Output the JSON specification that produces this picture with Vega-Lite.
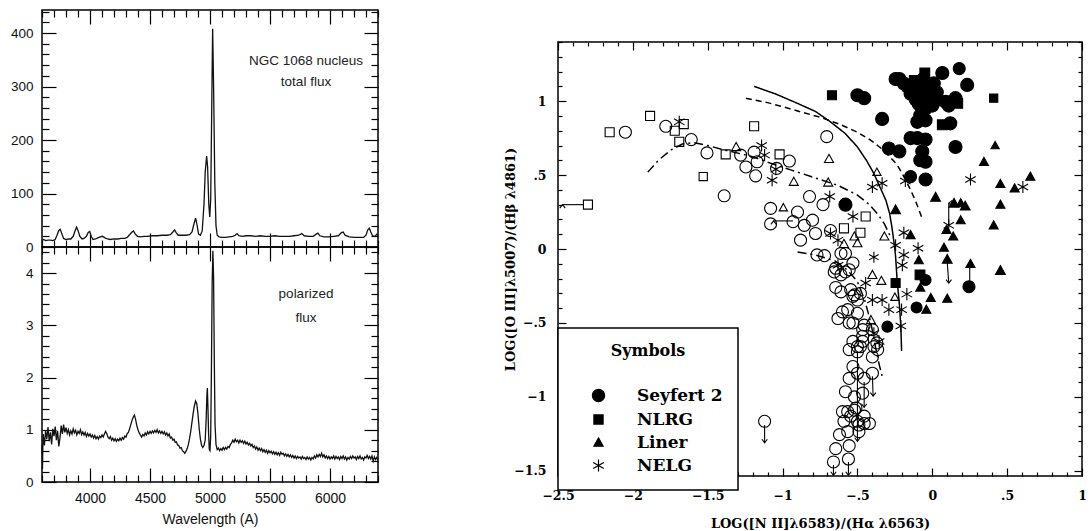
{
  "$schema": "https://vega.github.io/schema/vega-lite/v6.json",
  "background": "white",
  "padding": {"left": 9, "top": 3, "right": 5, "bottom": 5},
  "config": {
    "font": "Liberation Sans",
    "view": {"stroke": "black", "strokeWidth": 1.5},
    "axis": {"domain": false, "grid": false, "tickColor": "black", "tickWidth": 1.2, "labelColor": "#111", "titleColor": "#111", "labelOverlap": false, "labelFlush": false},
    "legend": {"strokeWidth": 1.5}
  },
  "datasets": {
    "total": [
      {"wl":3600,"flux":12},{"wl":3615,"flux":14},{"wl":3630,"flux":12},{"wl":3650,"flux":13},{"wl":3670,"flux":13},{"wl":3690,"flux":12},{"wl":3710,"flux":14},{"wl":3725,"flux":22},{"wl":3740,"flux":31},{"wl":3752,"flux":33},{"wl":3765,"flux":25},{"wl":3780,"flux":16},{"wl":3800,"flux":14},{"wl":3820,"flux":15},{"wl":3840,"flux":15},{"wl":3860,"flux":20},{"wl":3875,"flux":30},{"wl":3888,"flux":37},{"wl":3900,"flux":31},{"wl":3915,"flux":20},{"wl":3935,"flux":15},{"wl":3950,"flux":16},{"wl":3970,"flux":20},{"wl":3985,"flux":27},{"wl":3998,"flux":29},{"wl":4010,"flux":20},{"wl":4025,"flux":14},{"wl":4045,"flux":15},{"wl":4065,"flux":17},{"wl":4085,"flux":19},{"wl":4105,"flux":20},{"wl":4125,"flux":17},{"wl":4145,"flux":15},{"wl":4170,"flux":14},{"wl":4200,"flux":15},{"wl":4230,"flux":15},{"wl":4260,"flux":16},{"wl":4290,"flux":16},{"wl":4310,"flux":18},{"wl":4330,"flux":23},{"wl":4350,"flux":28},{"wl":4362,"flux":30},{"wl":4378,"flux":24},{"wl":4395,"flux":20},{"wl":4420,"flux":19},{"wl":4450,"flux":20},{"wl":4480,"flux":20},{"wl":4520,"flux":21},{"wl":4560,"flux":21},{"wl":4600,"flux":22},{"wl":4640,"flux":22},{"wl":4670,"flux":23},{"wl":4690,"flux":28},{"wl":4705,"flux":32},{"wl":4718,"flux":27},{"wl":4735,"flux":22},{"wl":4770,"flux":22},{"wl":4800,"flux":22},{"wl":4830,"flux":23},{"wl":4850,"flux":28},{"wl":4865,"flux":42},{"wl":4880,"flux":54},{"wl":4893,"flux":40},{"wl":4905,"flux":24},{"wl":4920,"flux":22},{"wl":4935,"flux":30},{"wl":4950,"flux":80},{"wl":4960,"flux":140},{"wl":4972,"flux":170},{"wl":4980,"flux":150},{"wl":4990,"flux":80},{"wl":4998,"flux":56},{"wl":5006,"flux":90},{"wl":5014,"flux":250},{"wl":5022,"flux":408},{"wl":5030,"flux":300},{"wl":5040,"flux":120},{"wl":5050,"flux":40},{"wl":5060,"flux":22},{"wl":5075,"flux":19},{"wl":5100,"flux":18},{"wl":5130,"flux":18},{"wl":5160,"flux":19},{"wl":5190,"flux":20},{"wl":5210,"flux":22},{"wl":5225,"flux":25},{"wl":5240,"flux":21},{"wl":5270,"flux":20},{"wl":5300,"flux":21},{"wl":5340,"flux":21},{"wl":5380,"flux":20},{"wl":5420,"flux":21},{"wl":5460,"flux":20},{"wl":5500,"flux":20},{"wl":5540,"flux":21},{"wl":5580,"flux":20},{"wl":5620,"flux":20},{"wl":5660,"flux":20},{"wl":5700,"flux":21},{"wl":5740,"flux":22},{"wl":5765,"flux":25},{"wl":5785,"flux":21},{"wl":5820,"flux":20},{"wl":5860,"flux":20},{"wl":5885,"flux":24},{"wl":5900,"flux":26},{"wl":5915,"flux":21},{"wl":5950,"flux":19},{"wl":5990,"flux":19},{"wl":6030,"flux":20},{"wl":6070,"flux":21},{"wl":6095,"flux":27},{"wl":6110,"flux":28},{"wl":6125,"flux":22},{"wl":6160,"flux":19},{"wl":6200,"flux":18},{"wl":6240,"flux":18},{"wl":6280,"flux":18},{"wl":6300,"flux":22},{"wl":6315,"flux":32},{"wl":6328,"flux":35},{"wl":6340,"flux":28},{"wl":6355,"flux":21},{"wl":6375,"flux":20},{"wl":6390,"flux":24},{"wl":6400,"flux":22}
    ],
    "polarized": [
      {"wl":3600,"flux":0.72},{"wl":3604,"flux":0.25},{"wl":3608,"flux":0.8},{"wl":3610,"flux":0.92},{"wl":3620,"flux":0.7},{"wl":3630,"flux":0.98},{"wl":3640,"flux":0.82},{"wl":3650,"flux":1.05},{"wl":3660,"flux":0.78},{"wl":3670,"flux":0.95},{"wl":3680,"flux":0.72},{"wl":3690,"flux":1.02},{"wl":3700,"flux":0.88},{"wl":3710,"flux":1.06},{"wl":3720,"flux":0.8},{"wl":3730,"flux":0.98},{"wl":3740,"flux":0.68},{"wl":3750,"flux":0.85},{"wl":3760,"flux":1.08},{"wl":3770,"flux":0.92},{"wl":3780,"flux":1.1},{"wl":3790,"flux":0.95},{"wl":3800,"flux":1.04},{"wl":3810,"flux":0.93},{"wl":3820,"flux":1.0},{"wl":3830,"flux":0.9},{"wl":3840,"flux":0.98},{"wl":3850,"flux":0.92},{"wl":3860,"flux":1.02},{"wl":3870,"flux":0.94},{"wl":3880,"flux":0.99},{"wl":3890,"flux":0.9},{"wl":3900,"flux":0.97},{"wl":3910,"flux":0.93},{"wl":3920,"flux":1.0},{"wl":3930,"flux":0.91},{"wl":3940,"flux":0.96},{"wl":3950,"flux":0.9},{"wl":3960,"flux":0.95},{"wl":3970,"flux":0.87},{"wl":3980,"flux":0.93},{"wl":3990,"flux":0.88},{"wl":4000,"flux":0.92},{"wl":4010,"flux":0.86},{"wl":4020,"flux":0.9},{"wl":4030,"flux":0.84},{"wl":4040,"flux":0.89},{"wl":4050,"flux":0.83},{"wl":4060,"flux":0.87},{"wl":4070,"flux":0.82},{"wl":4080,"flux":0.88},{"wl":4090,"flux":0.85},{"wl":4100,"flux":0.9},{"wl":4110,"flux":0.86},{"wl":4120,"flux":0.92},{"wl":4130,"flux":0.97},{"wl":4140,"flux":0.93},{"wl":4150,"flux":0.86},{"wl":4160,"flux":0.83},{"wl":4170,"flux":0.87},{"wl":4180,"flux":0.8},{"wl":4190,"flux":0.84},{"wl":4200,"flux":0.79},{"wl":4210,"flux":0.83},{"wl":4220,"flux":0.78},{"wl":4230,"flux":0.82},{"wl":4240,"flux":0.79},{"wl":4250,"flux":0.84},{"wl":4260,"flux":0.8},{"wl":4270,"flux":0.85},{"wl":4280,"flux":0.82},{"wl":4290,"flux":0.88},{"wl":4300,"flux":0.86},{"wl":4310,"flux":0.93},{"wl":4320,"flux":0.95},{"wl":4330,"flux":1.02},{"wl":4340,"flux":1.1},{"wl":4350,"flux":1.18},{"wl":4360,"flux":1.24},{"wl":4370,"flux":1.28},{"wl":4380,"flux":1.2},{"wl":4390,"flux":1.08},{"wl":4400,"flux":1.0},{"wl":4410,"flux":0.94},{"wl":4420,"flux":0.9},{"wl":4430,"flux":0.86},{"wl":4440,"flux":0.91},{"wl":4450,"flux":0.88},{"wl":4460,"flux":0.94},{"wl":4470,"flux":0.9},{"wl":4480,"flux":0.96},{"wl":4490,"flux":0.92},{"wl":4500,"flux":0.97},{"wl":4510,"flux":0.93},{"wl":4520,"flux":0.98},{"wl":4530,"flux":0.94},{"wl":4540,"flux":0.99},{"wl":4550,"flux":0.95},{"wl":4560,"flux":1.0},{"wl":4570,"flux":0.94},{"wl":4580,"flux":0.98},{"wl":4590,"flux":0.93},{"wl":4600,"flux":0.97},{"wl":4610,"flux":0.92},{"wl":4620,"flux":0.96},{"wl":4630,"flux":0.9},{"wl":4640,"flux":0.94},{"wl":4650,"flux":0.88},{"wl":4660,"flux":0.92},{"wl":4670,"flux":0.84},{"wl":4680,"flux":0.86},{"wl":4690,"flux":0.8},{"wl":4700,"flux":0.82},{"wl":4710,"flux":0.76},{"wl":4720,"flux":0.77},{"wl":4730,"flux":0.71},{"wl":4740,"flux":0.7},{"wl":4750,"flux":0.65},{"wl":4760,"flux":0.66},{"wl":4770,"flux":0.6},{"wl":4780,"flux":0.58},{"wl":4790,"flux":0.55},{"wl":4800,"flux":0.59},{"wl":4810,"flux":0.64},{"wl":4820,"flux":0.72},{"wl":4830,"flux":0.84},{"wl":4840,"flux":0.98},{"wl":4850,"flux":1.15},{"wl":4860,"flux":1.32},{"wl":4870,"flux":1.46},{"wl":4880,"flux":1.55},{"wl":4890,"flux":1.5},{"wl":4900,"flux":1.3},{"wl":4910,"flux":1.02},{"wl":4920,"flux":0.82},{"wl":4930,"flux":0.7},{"wl":4940,"flux":0.66},{"wl":4950,"flux":0.7},{"wl":4960,"flux":0.8},{"wl":4968,"flux":1.2},{"wl":4974,"flux":1.65},{"wl":4978,"flux":1.8},{"wl":4982,"flux":1.5},{"wl":4988,"flux":0.95},{"wl":4994,"flux":0.62},{"wl":5000,"flux":0.6},{"wl":5006,"flux":0.9},{"wl":5012,"flux":2.2},{"wl":5018,"flux":3.8},{"wl":5024,"flux":4.43},{"wl":5030,"flux":3.9},{"wl":5036,"flux":2.3},{"wl":5042,"flux":1.1},{"wl":5050,"flux":0.72},{"wl":5060,"flux":0.62},{"wl":5070,"flux":0.65},{"wl":5080,"flux":0.6},{"wl":5090,"flux":0.64},{"wl":5100,"flux":0.61},{"wl":5110,"flux":0.66},{"wl":5120,"flux":0.62},{"wl":5130,"flux":0.66},{"wl":5140,"flux":0.63},{"wl":5150,"flux":0.68},{"wl":5160,"flux":0.66},{"wl":5170,"flux":0.72},{"wl":5180,"flux":0.75},{"wl":5190,"flux":0.8},{"wl":5200,"flux":0.76},{"wl":5210,"flux":0.82},{"wl":5220,"flux":0.77},{"wl":5230,"flux":0.8},{"wl":5240,"flux":0.75},{"wl":5250,"flux":0.8},{"wl":5260,"flux":0.76},{"wl":5270,"flux":0.79},{"wl":5280,"flux":0.74},{"wl":5290,"flux":0.78},{"wl":5300,"flux":0.73},{"wl":5310,"flux":0.76},{"wl":5320,"flux":0.71},{"wl":5330,"flux":0.74},{"wl":5340,"flux":0.69},{"wl":5350,"flux":0.72},{"wl":5360,"flux":0.66},{"wl":5370,"flux":0.69},{"wl":5380,"flux":0.63},{"wl":5390,"flux":0.67},{"wl":5400,"flux":0.61},{"wl":5410,"flux":0.65},{"wl":5420,"flux":0.6},{"wl":5430,"flux":0.64},{"wl":5440,"flux":0.58},{"wl":5450,"flux":0.62},{"wl":5460,"flux":0.57},{"wl":5470,"flux":0.61},{"wl":5480,"flux":0.55},{"wl":5490,"flux":0.6},{"wl":5500,"flux":0.56},{"wl":5510,"flux":0.59},{"wl":5520,"flux":0.54},{"wl":5530,"flux":0.58},{"wl":5540,"flux":0.53},{"wl":5550,"flux":0.57},{"wl":5560,"flux":0.52},{"wl":5570,"flux":0.56},{"wl":5580,"flux":0.51},{"wl":5590,"flux":0.57},{"wl":5600,"flux":0.53},{"wl":5610,"flux":0.55},{"wl":5620,"flux":0.5},{"wl":5630,"flux":0.54},{"wl":5640,"flux":0.49},{"wl":5650,"flux":0.53},{"wl":5660,"flux":0.48},{"wl":5670,"flux":0.52},{"wl":5680,"flux":0.47},{"wl":5690,"flux":0.51},{"wl":5700,"flux":0.46},{"wl":5710,"flux":0.5},{"wl":5720,"flux":0.45},{"wl":5730,"flux":0.49},{"wl":5740,"flux":0.46},{"wl":5750,"flux":0.48},{"wl":5760,"flux":0.44},{"wl":5770,"flux":0.49},{"wl":5780,"flux":0.45},{"wl":5790,"flux":0.47},{"wl":5800,"flux":0.43},{"wl":5810,"flux":0.48},{"wl":5820,"flux":0.44},{"wl":5830,"flux":0.47},{"wl":5840,"flux":0.42},{"wl":5850,"flux":0.47},{"wl":5860,"flux":0.44},{"wl":5870,"flux":0.5},{"wl":5880,"flux":0.46},{"wl":5890,"flux":0.52},{"wl":5900,"flux":0.48},{"wl":5910,"flux":0.53},{"wl":5920,"flux":0.49},{"wl":5930,"flux":0.55},{"wl":5940,"flux":0.48},{"wl":5950,"flux":0.52},{"wl":5960,"flux":0.46},{"wl":5970,"flux":0.5},{"wl":5980,"flux":0.45},{"wl":5990,"flux":0.49},{"wl":6000,"flux":0.44},{"wl":6010,"flux":0.48},{"wl":6020,"flux":0.45},{"wl":6030,"flux":0.5},{"wl":6040,"flux":0.44},{"wl":6050,"flux":0.49},{"wl":6060,"flux":0.45},{"wl":6070,"flux":0.48},{"wl":6080,"flux":0.43},{"wl":6090,"flux":0.49},{"wl":6100,"flux":0.45},{"wl":6110,"flux":0.5},{"wl":6120,"flux":0.44},{"wl":6130,"flux":0.48},{"wl":6140,"flux":0.42},{"wl":6150,"flux":0.47},{"wl":6160,"flux":0.44},{"wl":6170,"flux":0.49},{"wl":6180,"flux":0.45},{"wl":6190,"flux":0.5},{"wl":6200,"flux":0.46},{"wl":6210,"flux":0.48},{"wl":6220,"flux":0.43},{"wl":6230,"flux":0.49},{"wl":6240,"flux":0.45},{"wl":6250,"flux":0.5},{"wl":6260,"flux":0.44},{"wl":6270,"flux":0.47},{"wl":6280,"flux":0.42},{"wl":6290,"flux":0.48},{"wl":6300,"flux":0.46},{"wl":6310,"flux":0.51},{"wl":6320,"flux":0.45},{"wl":6330,"flux":0.49},{"wl":6340,"flux":0.44},{"wl":6350,"flux":0.5},{"wl":6360,"flux":0.4},{"wl":6370,"flux":0.48},{"wl":6380,"flux":0.43},{"wl":6390,"flux":0.47},{"wl":6400,"flux":0.42}
    ],
    "galaxies": [
      {"x":-0.5,"y":1.04,"class":"Seyfert 2","quality":"high"},{"x":-0.455,"y":1.02,"class":"Seyfert 2","quality":"high"},{"x":-0.335,"y":0.88,"class":"Seyfert 2","quality":"high"},{"x":-0.29,"y":0.68,"class":"Seyfert 2","quality":"high"},{"x":-0.22,"y":0.66,"class":"Seyfert 2","quality":"high"},{"x":-0.245,"y":1.15,"class":"Seyfert 2","quality":"high"},{"x":-0.22,"y":1.15,"class":"Seyfert 2","quality":"high"},{"x":-0.19,"y":1.12,"class":"Seyfert 2","quality":"high"},{"x":-0.167,"y":1.1,"class":"Seyfert 2","quality":"high"},{"x":-0.145,"y":1.05,"class":"Seyfert 2","quality":"high"},{"x":-0.12,"y":1.075,"class":"Seyfert 2","quality":"high"},{"x":-0.08,"y":1.12,"class":"Seyfert 2","quality":"high"},{"x":-0.06,"y":1.15,"class":"Seyfert 2","quality":"high"},{"x":-0.033,"y":1.085,"class":"Seyfert 2","quality":"high"},{"x":-0.01,"y":1.065,"class":"Seyfert 2","quality":"high"},{"x":0.01,"y":1.12,"class":"Seyfert 2","quality":"high"},{"x":0.067,"y":1.19,"class":"Seyfert 2","quality":"high"},{"x":0.233,"y":1.11,"class":"Seyfert 2","quality":"high"},{"x":-0.11,"y":1.01,"class":"Seyfert 2","quality":"high"},{"x":-0.055,"y":1.03,"class":"Seyfert 2","quality":"high"},{"x":0.03,"y":1.06,"class":"Seyfert 2","quality":"high"},{"x":0.033,"y":1.01,"class":"Seyfert 2","quality":"high"},{"x":0.09,"y":0.995,"class":"Seyfert 2","quality":"high"},{"x":0.155,"y":1.02,"class":"Seyfert 2","quality":"high"},{"x":0.11,"y":0.97,"class":"Seyfert 2","quality":"high"},{"x":-0.09,"y":0.98,"class":"Seyfert 2","quality":"high"},{"x":0.0,"y":0.97,"class":"Seyfert 2","quality":"high"},{"x":-0.045,"y":0.95,"class":"Seyfert 2","quality":"high"},{"x":-0.08,"y":0.905,"class":"Seyfert 2","quality":"high"},{"x":-0.1,"y":0.86,"class":"Seyfert 2","quality":"high"},{"x":-0.045,"y":0.87,"class":"Seyfert 2","quality":"high"},{"x":0.12,"y":0.85,"class":"Seyfert 2","quality":"high"},{"x":-0.145,"y":0.75,"class":"Seyfert 2","quality":"high"},{"x":-0.1,"y":0.75,"class":"Seyfert 2","quality":"high"},{"x":-0.045,"y":0.74,"class":"Seyfert 2","quality":"high"},{"x":0.155,"y":0.69,"class":"Seyfert 2","quality":"high"},{"x":-0.067,"y":0.66,"class":"Seyfert 2","quality":"high"},{"x":-0.08,"y":0.6,"class":"Seyfert 2","quality":"high"},{"x":-0.045,"y":0.59,"class":"Seyfert 2","quality":"high"},{"x":-0.045,"y":0.47,"class":"Seyfert 2","quality":"high"},{"x":-0.58,"y":0.3,"class":"Seyfert 2","quality":"high"},
      {"x":0.18,"y":1.22,"class":"Seyfert 2","quality":"medium"},{"x":-0.145,"y":0.49,"class":"Seyfert 2","quality":"medium"},{"x":0.245,"y":-0.255,"class":"Seyfert 2","quality":"medium"},{"x":-0.045,"y":-0.21,"class":"Seyfert 2","quality":"low"},{"x":-0.105,"y":-0.395,"class":"Seyfert 2","quality":"low"},{"x":-0.3,"y":-0.525,"class":"Seyfert 2","quality":"low"},
      {"x":-0.05,"y":1.19,"class":"NLRG","quality":"high"},{"x":-0.12,"y":1.14,"class":"NLRG","quality":"high"},{"x":0.17,"y":0.985,"class":"NLRG","quality":"high"},{"x":0.067,"y":0.84,"class":"NLRG","quality":"high"},{"x":-0.082,"y":-0.175,"class":"NLRG","quality":"high"},{"x":-0.67,"y":1.04,"class":"NLRG","quality":"medium"},{"x":-0.245,"y":-0.23,"class":"NLRG","quality":"medium"},{"x":0.41,"y":1.02,"class":"NLRG","quality":"low"},
      {"x":0.022,"y":0.35,"class":"Liner","quality":"high"},{"x":0.145,"y":0.31,"class":"Liner","quality":"high"},{"x":0.22,"y":0.29,"class":"Liner","quality":"high"},{"x":-0.245,"y":0.265,"class":"Liner","quality":"high"},{"x":0.1,"y":-0.07,"class":"Liner","quality":"high"},{"x":0.455,"y":-0.145,"class":"Liner","quality":"high"},
      {"x":0.345,"y":0.59,"class":"Liner","quality":"medium"},{"x":0.655,"y":0.49,"class":"Liner","quality":"medium"},{"x":0.455,"y":0.44,"class":"Liner","quality":"medium"},{"x":0.55,"y":0.41,"class":"Liner","quality":"medium"},{"x":0.455,"y":0.3,"class":"Liner","quality":"medium"},{"x":0.41,"y":0.16,"class":"Liner","quality":"medium"},{"x":0.19,"y":0.31,"class":"Liner","quality":"medium"},{"x":0.19,"y":0.195,"class":"Liner","quality":"medium"},{"x":0.095,"y":0.13,"class":"Liner","quality":"medium"},{"x":0.14,"y":0.085,"class":"Liner","quality":"medium"},{"x":-0.145,"y":0.095,"class":"Liner","quality":"medium"},{"x":0.078,"y":0.01,"class":"Liner","quality":"medium"},{"x":-0.09,"y":-0.075,"class":"Liner","quality":"medium"},{"x":0.255,"y":-0.1,"class":"Liner","quality":"medium"},{"x":-0.08,"y":-0.26,"class":"Liner","quality":"medium"},{"x":-0.01,"y":-0.33,"class":"Liner","quality":"medium"},{"x":0.1,"y":-0.335,"class":"Liner","quality":"medium"},{"x":-0.04,"y":-0.41,"class":"Liner","quality":"medium"},{"x":0.42,"y":0.7,"class":"Liner","quality":"low"},
      {"x":-1.69,"y":0.86,"class":"NELG","quality":"medium"},{"x":-1.14,"y":0.7,"class":"NELG","quality":"medium"},{"x":-1.12,"y":0.635,"class":"NELG","quality":"medium"},{"x":-1.07,"y":0.465,"class":"NELG","quality":"medium"},{"x":-1.045,"y":0.54,"class":"NELG","quality":"medium"},{"x":-0.685,"y":0.355,"class":"NELG","quality":"medium"},{"x":-0.53,"y":0.22,"class":"NELG","quality":"medium"},{"x":-0.4,"y":0.42,"class":"NELG","quality":"medium"},{"x":-0.335,"y":0.445,"class":"NELG","quality":"medium"},{"x":-0.68,"y":0.105,"class":"NELG","quality":"medium"},{"x":-0.63,"y":0.06,"class":"NELG","quality":"medium"},{"x":0.255,"y":0.47,"class":"NELG","quality":"medium"},{"x":0.605,"y":0.42,"class":"NELG","quality":"medium"},{"x":-0.18,"y":0.46,"class":"NELG","quality":"medium"},{"x":-0.19,"y":0.11,"class":"NELG","quality":"medium"},{"x":0.11,"y":0.16,"class":"NELG","quality":"medium"},{"x":-0.095,"y":0.005,"class":"NELG","quality":"medium"},{"x":-0.245,"y":0.025,"class":"NELG","quality":"medium"},{"x":-0.19,"y":-0.04,"class":"NELG","quality":"medium"},{"x":-0.2,"y":-0.11,"class":"NELG","quality":"medium"},{"x":-0.17,"y":-0.305,"class":"NELG","quality":"medium"},{"x":-0.29,"y":-0.41,"class":"NELG","quality":"medium"},{"x":-0.205,"y":-0.41,"class":"NELG","quality":"medium"},{"x":-0.21,"y":-0.52,"class":"NELG","quality":"medium"},{"x":-0.63,"y":-0.11,"class":"NELG","quality":"medium"},{"x":-0.445,"y":-0.23,"class":"NELG","quality":"medium"},{"x":-0.4,"y":-0.345,"class":"NELG","quality":"medium"},{"x":-0.335,"y":-0.345,"class":"NELG","quality":"medium"},{"x":-0.39,"y":-0.57,"class":"NELG","quality":"medium"},{"x":-0.355,"y":-0.625,"class":"NELG","quality":"medium"},{"x":-0.39,"y":-0.055,"class":"NELG","quality":"low"},
      {"x":-2.05,"y":0.79,"class":"H II region","quality":"medium"},{"x":-1.78,"y":0.83,"class":"H II region","quality":"medium"},{"x":-1.61,"y":0.74,"class":"H II region","quality":"medium"},{"x":-1.505,"y":0.65,"class":"H II region","quality":"medium"},{"x":-1.39,"y":0.36,"class":"H II region","quality":"medium"},{"x":-1.28,"y":0.635,"class":"H II region","quality":"medium"},{"x":-1.19,"y":0.655,"class":"H II region","quality":"medium"},{"x":-1.245,"y":0.555,"class":"H II region","quality":"medium"},{"x":-1.18,"y":0.495,"class":"H II region","quality":"medium"},{"x":-1.17,"y":0.59,"class":"H II region","quality":"medium"},{"x":-1.04,"y":0.545,"class":"H II region","quality":"medium"},{"x":-0.955,"y":0.595,"class":"H II region","quality":"medium"},{"x":-0.705,"y":0.76,"class":"H II region","quality":"medium"},{"x":-1.08,"y":0.275,"class":"H II region","quality":"medium"},{"x":-1.08,"y":0.17,"class":"H II region","quality":"medium"},{"x":-0.9,"y":0.25,"class":"H II region","quality":"medium"},{"x":-0.93,"y":0.185,"class":"H II region","quality":"medium"},{"x":-0.855,"y":0.16,"class":"H II region","quality":"medium"},{"x":-0.8,"y":0.195,"class":"H II region","quality":"medium"},{"x":-0.78,"y":0.105,"class":"H II region","quality":"medium"},{"x":-0.88,"y":0.06,"class":"H II region","quality":"medium"},{"x":-0.68,"y":0.125,"class":"H II region","quality":"medium"},{"x":-0.82,"y":0.355,"class":"H II region","quality":"medium"},{"x":-0.73,"y":0.3,"class":"H II region","quality":"medium"},{"x":-0.77,"y":-0.04,"class":"H II region","quality":"medium"},{"x":-0.72,"y":-0.045,"class":"H II region","quality":"medium"},{"x":-0.61,"y":-0.03,"class":"H II region","quality":"medium"},{"x":-0.58,"y":-0.03,"class":"H II region","quality":"medium"},{"x":-0.53,"y":-0.095,"class":"H II region","quality":"medium"},{"x":-0.645,"y":-0.13,"class":"H II region","quality":"medium"},{"x":-0.655,"y":-0.155,"class":"H II region","quality":"medium"},{"x":-0.61,"y":-0.175,"class":"H II region","quality":"medium"},{"x":-0.58,"y":-0.155,"class":"H II region","quality":"medium"},{"x":-0.555,"y":-0.14,"class":"H II region","quality":"medium"},{"x":-0.645,"y":-0.26,"class":"H II region","quality":"medium"},{"x":-0.61,"y":-0.29,"class":"H II region","quality":"medium"},{"x":-0.545,"y":-0.275,"class":"H II region","quality":"medium"},{"x":-0.52,"y":-0.31,"class":"H II region","quality":"medium"},{"x":-0.53,"y":-0.32,"class":"H II region","quality":"medium"},{"x":-0.5,"y":-0.345,"class":"H II region","quality":"medium"},{"x":-0.48,"y":-0.3,"class":"H II region","quality":"medium"},{"x":-0.565,"y":-0.41,"class":"H II region","quality":"medium"},{"x":-0.63,"y":-0.47,"class":"H II region","quality":"medium"},{"x":-0.6,"y":-0.425,"class":"H II region","quality":"medium"},{"x":-0.5,"y":-0.435,"class":"H II region","quality":"medium"},{"x":-0.555,"y":-0.5,"class":"H II region","quality":"medium"},{"x":-0.53,"y":-0.5,"class":"H II region","quality":"medium"},{"x":-0.455,"y":-0.515,"class":"H II region","quality":"medium"},{"x":-0.465,"y":-0.545,"class":"H II region","quality":"medium"},{"x":-0.4,"y":-0.545,"class":"H II region","quality":"medium"},{"x":-0.37,"y":-0.635,"class":"H II region","quality":"medium"},{"x":-0.53,"y":-0.625,"class":"H II region","quality":"medium"},{"x":-0.465,"y":-0.59,"class":"H II region","quality":"medium"},{"x":-0.465,"y":-0.625,"class":"H II region","quality":"medium"},{"x":-0.5,"y":-0.66,"class":"H II region","quality":"medium"},{"x":-0.555,"y":-0.68,"class":"H II region","quality":"medium"},{"x":-0.48,"y":-0.66,"class":"H II region","quality":"medium"},{"x":-0.39,"y":-0.66,"class":"H II region","quality":"medium"},{"x":-0.365,"y":-0.68,"class":"H II region","quality":"medium"},{"x":-0.4,"y":-0.73,"class":"H II region","quality":"medium"},{"x":-0.4,"y":-0.84,"class":"H II region","quality":"medium"},{"x":-0.5,"y":-0.695,"class":"H II region","quality":"medium"},{"x":-0.53,"y":-0.795,"class":"H II region","quality":"medium"},{"x":-0.555,"y":-0.875,"class":"H II region","quality":"medium"},{"x":-0.455,"y":-0.875,"class":"H II region","quality":"medium"},{"x":-0.5,"y":-0.84,"class":"H II region","quality":"medium"},{"x":-0.58,"y":-0.965,"class":"H II region","quality":"medium"},{"x":-0.52,"y":-1.0,"class":"H II region","quality":"medium"},{"x":-0.465,"y":-0.975,"class":"H II region","quality":"medium"},{"x":-0.6,"y":-1.1,"class":"H II region","quality":"medium"},{"x":-0.565,"y":-1.1,"class":"H II region","quality":"medium"},{"x":-0.52,"y":-1.09,"class":"H II region","quality":"medium"},{"x":-0.51,"y":-1.075,"class":"H II region","quality":"medium"},{"x":-0.59,"y":-1.165,"class":"H II region","quality":"medium"},{"x":-0.545,"y":-1.13,"class":"H II region","quality":"medium"},{"x":-0.5,"y":-1.165,"class":"H II region","quality":"medium"},{"x":-0.455,"y":-1.18,"class":"H II region","quality":"medium"},{"x":-0.42,"y":-1.18,"class":"H II region","quality":"medium"},{"x":-0.455,"y":-1.13,"class":"H II region","quality":"medium"},{"x":-0.49,"y":-1.19,"class":"H II region","quality":"medium"},{"x":-0.565,"y":-1.235,"class":"H II region","quality":"medium"},{"x":-0.49,"y":-1.235,"class":"H II region","quality":"medium"},{"x":-0.62,"y":-1.255,"class":"H II region","quality":"medium"},{"x":-0.645,"y":-1.35,"class":"H II region","quality":"medium"},{"x":-0.555,"y":-1.33,"class":"H II region","quality":"medium"},{"x":-0.66,"y":-1.44,"class":"H II region","quality":"medium"},{"x":-0.56,"y":-1.42,"class":"H II region","quality":"medium"},{"x":-1.12,"y":-1.165,"class":"H II region","quality":"medium"},
      {"x":-2.155,"y":0.79,"class":"H II galaxy","quality":"medium"},{"x":-1.885,"y":0.9,"class":"H II galaxy","quality":"medium"},{"x":-1.66,"y":0.845,"class":"H II galaxy","quality":"medium"},{"x":-1.72,"y":0.8,"class":"H II galaxy","quality":"medium"},{"x":-1.69,"y":0.725,"class":"H II galaxy","quality":"medium"},{"x":-1.38,"y":0.64,"class":"H II galaxy","quality":"medium"},{"x":-1.19,"y":0.83,"class":"H II galaxy","quality":"medium"},{"x":-1.02,"y":0.64,"class":"H II galaxy","quality":"medium"},{"x":-2.3,"y":0.3,"class":"H II galaxy","quality":"medium"},{"x":-0.59,"y":0.14,"class":"H II galaxy","quality":"medium"},{"x":-0.48,"y":0.11,"class":"H II galaxy","quality":"medium"},{"x":-0.445,"y":0.22,"class":"H II galaxy","quality":"medium"},{"x":-1.53,"y":0.49,"class":"H II galaxy","quality":"low"},
      {"x":-1.31,"y":0.69,"class":"Starburst","quality":"medium"},{"x":-0.925,"y":0.455,"class":"Starburst","quality":"medium"},{"x":-0.69,"y":0.61,"class":"Starburst","quality":"medium"},{"x":-0.695,"y":0.45,"class":"Starburst","quality":"medium"},{"x":-0.52,"y":0.085,"class":"Starburst","quality":"medium"},{"x":-0.5,"y":0.04,"class":"Starburst","quality":"medium"},{"x":-0.32,"y":0.085,"class":"Starburst","quality":"medium"},{"x":-0.59,"y":0.035,"class":"Starburst","quality":"medium"},{"x":-0.4,"y":-0.175,"class":"Starburst","quality":"medium"},{"x":-0.34,"y":-0.215,"class":"Starburst","quality":"medium"},{"x":-0.41,"y":-0.48,"class":"Starburst","quality":"medium"},{"x":-0.995,"y":0.28,"class":"Starburst","quality":"low"},{"x":-0.37,"y":0.52,"class":"Starburst","quality":"low"},{"x":-0.25,"y":-0.325,"class":"Starburst","quality":"low"}
    ],
    "limits": [
      {"x":-2.33,"y":0.3,"x2":-2.47,"y2":0.3,"dir":"left"},
      {"x":-0.93,"y":0.19,"x2":-1.06,"y2":0.19,"dir":"left"},
      {"x":0.11,"y":0.16,"x2":0.11,"y2":0.31,"dir":"up"},
      {"x":0.1,"y":-0.09,"x2":0.11,"y2":-0.23,"dir":"down"},
      {"x":0.25,"y":-0.12,"x2":0.25,"y2":-0.245,"dir":"down"},
      {"x":-0.4,"y":-0.86,"x2":-0.395,"y2":-0.995,"dir":"down"},
      {"x":-0.5,"y":-0.7,"x2":-0.5,"y2":-1.3,"dir":"down"},
      {"x":-0.455,"y":-0.9,"x2":-0.455,"y2":-1.07,"dir":"down"},
      {"x":-0.66,"y":-1.46,"x2":-0.66,"y2":-1.53,"dir":"down"},
      {"x":-0.56,"y":-1.44,"x2":-0.56,"y2":-1.53,"dir":"down"},
      {"x":-1.12,"y":-1.19,"x2":-1.12,"y2":-1.31,"dir":"down"}
    ],
    "curves": [
      {"curve":"boundary","i":0,"x":-1.19,"y":1.1},{"curve":"boundary","i":1,"x":-1.05,"y":1.05},{"curve":"boundary","i":2,"x":-0.9,"y":0.985},{"curve":"boundary","i":3,"x":-0.78,"y":0.93},{"curve":"boundary","i":4,"x":-0.68,"y":0.86},{"curve":"boundary","i":5,"x":-0.58,"y":0.78},{"curve":"boundary","i":6,"x":-0.5,"y":0.69},{"curve":"boundary","i":7,"x":-0.44,"y":0.6},{"curve":"boundary","i":8,"x":-0.39,"y":0.51},{"curve":"boundary","i":9,"x":-0.35,"y":0.42},{"curve":"boundary","i":10,"x":-0.31,"y":0.33},{"curve":"boundary","i":11,"x":-0.285,"y":0.24},{"curve":"boundary","i":12,"x":-0.27,"y":0.15},{"curve":"boundary","i":13,"x":-0.255,"y":0.04},{"curve":"boundary","i":14,"x":-0.245,"y":-0.05},{"curve":"boundary","i":15,"x":-0.235,"y":-0.21},{"curve":"boundary","i":16,"x":-0.22,"y":-0.37},{"curve":"boundary","i":17,"x":-0.21,"y":-0.525},{"curve":"boundary","i":18,"x":-0.205,"y":-0.69},
      {"curve":"model","i":0,"x":-1.245,"y":1.02},{"curve":"model","i":1,"x":-1.1,"y":0.99},{"curve":"model","i":2,"x":-0.99,"y":0.96},{"curve":"model","i":3,"x":-0.87,"y":0.925},{"curve":"model","i":4,"x":-0.745,"y":0.89},{"curve":"model","i":5,"x":-0.61,"y":0.84},{"curve":"model","i":6,"x":-0.5,"y":0.79},{"curve":"model","i":7,"x":-0.41,"y":0.735},{"curve":"model","i":8,"x":-0.34,"y":0.68},{"curve":"model","i":9,"x":-0.28,"y":0.62},{"curve":"model","i":10,"x":-0.235,"y":0.57},{"curve":"model","i":11,"x":-0.19,"y":0.49},{"curve":"model","i":12,"x":-0.145,"y":0.4},{"curve":"model","i":13,"x":-0.11,"y":0.32},{"curve":"model","i":14,"x":-0.08,"y":0.24},{"curve":"model","i":15,"x":-0.065,"y":0.2},
      {"curve":"H II upper","i":0,"x":-1.9,"y":0.52},{"curve":"H II upper","i":1,"x":-1.83,"y":0.6},{"curve":"H II upper","i":2,"x":-1.745,"y":0.67},{"curve":"H II upper","i":3,"x":-1.67,"y":0.71},{"curve":"H II upper","i":4,"x":-1.6,"y":0.72},{"curve":"H II upper","i":5,"x":-1.5,"y":0.7},{"curve":"H II upper","i":6,"x":-1.39,"y":0.67},{"curve":"H II upper","i":7,"x":-1.2,"y":0.625},{"curve":"H II upper","i":8,"x":-1.08,"y":0.58},{"curve":"H II upper","i":9,"x":-0.945,"y":0.535},{"curve":"H II upper","i":10,"x":-0.81,"y":0.49},{"curve":"H II upper","i":11,"x":-0.63,"y":0.43},{"curve":"H II upper","i":12,"x":-0.5,"y":0.365},{"curve":"H II upper","i":13,"x":-0.42,"y":0.3},{"curve":"H II upper","i":14,"x":-0.36,"y":0.23},{"curve":"H II upper","i":15,"x":-0.32,"y":0.17},{"curve":"H II upper","i":16,"x":-0.28,"y":0.085},
      {"curve":"H II lower","i":0,"x":-0.9,"y":-0.02},{"curve":"H II lower","i":1,"x":-0.78,"y":-0.04},{"curve":"H II lower","i":2,"x":-0.65,"y":-0.08},{"curve":"H II lower","i":3,"x":-0.57,"y":-0.14},{"curve":"H II lower","i":4,"x":-0.5,"y":-0.22},{"curve":"H II lower","i":5,"x":-0.45,"y":-0.35},{"curve":"H II lower","i":6,"x":-0.41,"y":-0.5},{"curve":"H II lower","i":7,"x":-0.38,"y":-0.66},{"curve":"H II lower","i":8,"x":-0.355,"y":-0.78},{"curve":"H II lower","i":9,"x":-0.33,"y":-0.88}
    ]
  },
  "resolve": {
    "scale": {"x": "independent", "y": "independent", "shape": "independent", "fill": "independent", "stroke": "independent", "size": "independent", "strokeDash": "independent", "angle": "independent"},
    "legend": {"shape": "independent", "fill": "independent", "stroke": "independent"}
  },
  "spacing": 122,
  "hconcat": [
    {
      "spacing": 0,
      "bounds": "flush",
      "resolve": {"scale": {"x": "independent", "y": "independent"}},
      "vconcat": [
        {
          "width": 336,
          "height": 237,
          "resolve": {"axis": {"x": "independent", "y": "independent"}},
          "layer": [
            {
              "data": {"name": "total"},
              "mark": {"type": "line", "color": "#111", "strokeWidth": 1.3},
              "encoding": {
                "x": {"field": "wl", "type": "quantitative", "scale": {"domain": [3600, 6400], "nice": false, "zero": false},
                  "axis": {"orient": "bottom", "title": null, "labels": false,
                    "values": [3600,3700,3800,3900,4000,4100,4200,4300,4400,4500,4600,4700,4800,4900,5000,5100,5200,5300,5400,5500,5600,5700,5800,5900,6000,6100,6200,6300,6400],
                    "tickSize": {"condition": {"test": "datum.value % 500 === 0", "value": -14}, "value": -7}}},
                "y": {"field": "flux", "type": "quantitative", "scale": {"domain": [0, 443], "nice": false, "zero": false},
                  "axis": {"orient": "left", "title": null,
                    "values": [0,20,40,60,80,100,120,140,160,180,200,220,240,260,280,300,320,340,360,380,400,420,440],
                    "tickSize": {"condition": {"test": "datum.value % 100 === 0", "value": -14}, "value": -7},
                    "labelExpr": "datum.value % 100 === 0 ? datum.label : ''",
                    "labelFont": "Liberation Sans", "labelFontSize": 13.5, "labelPadding": 23}}
              }
            },
            {
              "data": {"values": [{"wl": 5800, "flux": 348, "note": "NGC 1068 nucleus"}, {"wl": 5800, "flux": 308, "note": "total flux"}]},
              "mark": {"type": "text", "font": "Liberation Sans", "fontSize": 13.5, "color": "#222"},
              "encoding": {
                "x": {"field": "wl", "type": "quantitative",
                  "axis": {"orient": "top", "title": null, "labels": false,
                    "values": [3600,3700,3800,3900,4000,4100,4200,4300,4400,4500,4600,4700,4800,4900,5000,5100,5200,5300,5400,5500,5600,5700,5800,5900,6000,6100,6200,6300,6400],
                    "tickSize": {"condition": {"test": "datum.value % 500 === 0", "value": -14}, "value": -7}}},
                "y": {"field": "flux", "type": "quantitative",
                  "axis": {"orient": "right", "title": null, "labels": false,
                    "values": [0,20,40,60,80,100,120,140,160,180,200,220,240,260,280,300,320,340,360,380,400,420,440],
                    "tickSize": {"condition": {"test": "datum.value % 100 === 0", "value": -14}, "value": -7}}},
                "text": {"field": "note"}
              }
            }
          ]
        },
        {
          "width": 336,
          "height": 235,
          "resolve": {"axis": {"x": "independent", "y": "independent"}},
          "layer": [
            {
              "data": {"name": "polarized"},
              "mark": {"type": "line", "color": "#111", "strokeWidth": 1.3},
              "encoding": {
                "x": {"field": "wl", "type": "quantitative", "scale": {"domain": [3600, 6400], "nice": false, "zero": false},
                  "axis": {"orient": "bottom", "title": "Wavelength (A)",
                    "values": [3600,3700,3800,3900,4000,4100,4200,4300,4400,4500,4600,4700,4800,4900,5000,5100,5200,5300,5400,5500,5600,5700,5800,5900,6000,6100,6200,6300,6400],
                    "tickSize": {"condition": {"test": "datum.value % 500 === 0", "value": -14}, "value": -7},
                    "labelExpr": "datum.value % 500 === 0 ? datum.label : ''",
                    "format": "d",
                    "labelFont": "Liberation Sans", "labelFontSize": 14, "labelPadding": 23,
                    "titleFont": "Liberation Sans", "titleFontSize": 14, "titleFontWeight": "normal", "titlePadding": 0}},
                "y": {"field": "flux", "type": "quantitative", "scale": {"domain": [0, 4.5], "nice": false, "zero": false},
                  "axis": {"orient": "left", "title": null,
                    "values": [0,0.2,0.4,0.6,0.8,1,1.2,1.4,1.6,1.8,2,2.2,2.4,2.6,2.8,3,3.2,3.4,3.6,3.8,4,4.2,4.4],
                    "tickSize": {"condition": {"test": "abs(datum.value - round(datum.value)) < 0.001", "value": -14}, "value": -7},
                    "labelExpr": "abs(datum.value - round(datum.value)) < 0.001 ? format(datum.value, 'd') : ''",
                    "labelFont": "Liberation Sans", "labelFontSize": 13.5, "labelPadding": 23}}
              }
            },
            {
              "data": {"values": [{"wl": 5800, "flux": 3.6, "note": "polarized"}, {"wl": 5800, "flux": 3.14, "note": "flux"}]},
              "mark": {"type": "text", "font": "Liberation Sans", "fontSize": 13.5, "color": "#222"},
              "encoding": {
                "x": {"field": "wl", "type": "quantitative",
                  "axis": {"orient": "top", "title": null, "labels": false,
                    "values": [3600,3700,3800,3900,4000,4100,4200,4300,4400,4500,4600,4700,4800,4900,5000,5100,5200,5300,5400,5500,5600,5700,5800,5900,6000,6100,6200,6300,6400],
                    "tickSize": {"condition": {"test": "datum.value % 500 === 0", "value": -14}, "value": -7}}},
                "y": {"field": "flux", "type": "quantitative",
                  "axis": {"orient": "right", "title": null, "labels": false,
                    "values": [0,0.2,0.4,0.6,0.8,1,1.2,1.4,1.6,1.8,2,2.2,2.4,2.6,2.8,3,3.2,3.4,3.6,3.8,4,4.2,4.4],
                    "tickSize": {"condition": {"test": "abs(datum.value - round(datum.value)) < 0.001", "value": -14}, "value": -7}}},
                "text": {"field": "note"}
              }
            }
          ]
        }
      ]
    },
    {
      "spacing": 0,
      "resolve": {
        "scale": {"x": "independent", "y": "independent", "shape": "independent", "fill": "independent", "stroke": "independent", "size": "independent", "strokeDash": "independent", "angle": "independent"},
        "legend": {"shape": "independent", "fill": "independent", "stroke": "independent"}
      },
      "vconcat": [
        {
          "width": 524,
          "height": 25,
          "view": {"stroke": null},
          "data": {"values": []},
          "mark": {"type": "point"},
          "encoding": {}
        },
        {
          "width": 524,
          "height": 434,
          "resolve": {"axis": {"x": "independent", "y": "independent"}},
          "layer": [
            {
              "data": {"name": "curves"},
              "mark": {"type": "line", "color": "black", "strokeWidth": 1.5},
              "encoding": {
                "x": {"field": "x", "type": "quantitative", "scale": {"domain": [-2.5, 1.0], "nice": false, "zero": false},
                  "axis": {"orient": "bottom", "title": "LOG([N II]λ6583)/(Hα λ6563)",
                    "values": [-2.5,-2.4,-2.3,-2.2,-2.1,-2,-1.9,-1.8,-1.7,-1.6,-1.5,-1.4,-1.3,-1.2,-1.1,-1,-0.9,-0.8,-0.7,-0.6,-0.5,-0.4,-0.3,-0.2,-0.1,0,0.1,0.2,0.3,0.4,0.5,0.6,0.7,0.8,0.9,1],
                    "tickSize": {"condition": {"test": "abs(datum.value*2 - round(datum.value*2)) < 0.001", "value": -8}, "value": -4},
                    "labelExpr": "abs(datum.value*2 - round(datum.value*2)) < 0.001 ? (datum.value < 0 ? '−' : '') + replace(format(abs(datum.value), '~g'), '0.', '.') : ''",
                    "labelFont": "DejaVu Serif", "labelFontWeight": "bold", "labelFontSize": 12.5, "labelPadding": 21, "labelColor": "black",
                    "titleFont": "DejaVu Serif", "titleFontWeight": "bold", "titleFontSize": 13, "titlePadding": 12, "titleColor": "black"}},
                "y": {"field": "y", "type": "quantitative", "scale": {"domain": [-1.535, 1.4], "nice": false, "zero": false},
                  "axis": {"orient": "left", "title": "LOG([O III]λ5007)/(Hβ λ4861)",
                    "values": [-1.5,-1.4,-1.3,-1.2,-1.1,-1,-0.9,-0.8,-0.7,-0.6,-0.5,-0.4,-0.3,-0.2,-0.1,0,0.1,0.2,0.3,0.4,0.5,0.6,0.7,0.8,0.9,1,1.1,1.2,1.3,1.4],
                    "tickSize": {"condition": {"test": "abs(datum.value*2 - round(datum.value*2)) < 0.001", "value": -8}, "value": -4},
                    "labelExpr": "abs(datum.value*2 - round(datum.value*2)) < 0.001 ? (datum.value < 0 ? '−' : '') + replace(format(abs(datum.value), '~g'), '0.', '.') : ''",
                    "labelFont": "DejaVu Serif", "labelFontWeight": "bold", "labelFontSize": 12.5, "labelPadding": 20, "labelColor": "black",
                    "titleFont": "DejaVu Serif", "titleFontWeight": "bold", "titleFontSize": 13, "titlePadding": -4, "titleColor": "black"}},
                "detail": {"field": "curve"},
                "order": {"field": "i", "type": "quantitative"},
                "strokeDash": {"field": "curve", "type": "nominal", "legend": null,
                  "scale": {"domain": ["boundary", "model", "H II upper", "H II lower"], "range": [[1, 0], [6, 4], [9, 4, 2, 4], [9, 4, 2, 4]]}}
              }
            },
            {
              "data": {"name": "limits"},
              "mark": {"type": "rule", "color": "black", "strokeWidth": 1.1},
              "encoding": {
                "x": {"field": "x", "type": "quantitative",
                  "axis": {"orient": "top", "title": null, "labels": false,
                    "values": [-2.5,-2.4,-2.3,-2.2,-2.1,-2,-1.9,-1.8,-1.7,-1.6,-1.5,-1.4,-1.3,-1.2,-1.1,-1,-0.9,-0.8,-0.7,-0.6,-0.5,-0.4,-0.3,-0.2,-0.1,0,0.1,0.2,0.3,0.4,0.5,0.6,0.7,0.8,0.9,1],
                    "tickSize": {"condition": {"test": "abs(datum.value*2 - round(datum.value*2)) < 0.001", "value": -8}, "value": -4}}},
                "y": {"field": "y", "type": "quantitative",
                  "axis": {"orient": "right", "title": null, "labels": false,
                    "values": [-1.5,-1.4,-1.3,-1.2,-1.1,-1,-0.9,-0.8,-0.7,-0.6,-0.5,-0.4,-0.3,-0.2,-0.1,0,0.1,0.2,0.3,0.4,0.5,0.6,0.7,0.8,0.9,1,1.1,1.2,1.3,1.4],
                    "tickSize": {"condition": {"test": "abs(datum.value*2 - round(datum.value*2)) < 0.001", "value": -8}, "value": -4}}},
                "x2": {"field": "x2"},
                "y2": {"field": "y2"}
              }
            },
            {
              "data": {"name": "limits"},
              "mark": {"type": "point", "shape": "M-0.7,-0.9L0,0L0.7,-0.9", "filled": false, "stroke": "black", "strokeWidth": 1.1, "size": 60, "opacity": 1},
              "encoding": {
                "x": {"field": "x2", "type": "quantitative", "axis": null},
                "y": {"field": "y2", "type": "quantitative", "axis": null},
                "angle": {"field": "dir", "type": "ordinal", "legend": null,
                  "scale": {"domain": ["down", "up", "left"], "range": [0, 180, 90]}}
              }
            },
            {
              "data": {"name": "galaxies"},
              "mark": {"type": "point", "filled": true, "strokeWidth": 1.1, "opacity": 1},
              "encoding": {
                "x": {"field": "x", "type": "quantitative", "axis": null},
                "y": {"field": "y", "type": "quantitative", "axis": null},
                "shape": {"field": "class", "type": "nominal",
                  "scale": {"domain": ["Seyfert 2", "NLRG", "Liner", "NELG", "H II region", "H II galaxy", "Starburst"],
                    "range": ["circle", "M-0.75,-0.75L0.75,-0.75L0.75,0.75L-0.75,0.75Z", "M0,-0.75L0.75,0.6L-0.75,0.6Z", "M0,-1L0,1M-0.87,-0.5L0.87,0.5M-0.87,0.5L0.87,-0.5", "circle", "M-0.75,-0.75L0.75,-0.75L0.75,0.75L-0.75,0.75Z", "M0,-0.75L0.75,0.6L-0.75,0.6Z"]},
                  "legend": {"title": "Symbols", "orient": "none", "legendX": 0, "legendY": 286,
                    "values": ["Seyfert 2", "NLRG", "Liner", "NELG"],
                    "strokeColor": "black", "fillColor": "white", "padding": 15,
                    "titleFont": "DejaVu Serif", "titleFontWeight": "bold", "titleFontSize": 16, "titleColor": "black", "titleAnchor": "middle", "titlePadding": 28,
                    "labelFont": "DejaVu Serif", "labelFontWeight": "bold", "labelFontSize": 17, "labelColor": "black", "labelOffset": 30,
                    "symbolOffset": 17, "symbolSize": 150, "symbolStrokeWidth": 1.2, "rowPadding": 5}},
                "fill": {"field": "class", "type": "nominal",
                  "scale": {"domain": ["Seyfert 2", "NLRG", "Liner", "NELG", "H II region", "H II galaxy", "Starburst"],
                    "range": ["black", "black", "black", "transparent", "transparent", "transparent", "transparent"]},
                  "legend": {"title": "Symbols", "orient": "none", "legendX": 0, "legendY": 286,
                    "values": ["Seyfert 2", "NLRG", "Liner", "NELG"]}},
                "stroke": {"field": "class", "type": "nominal",
                  "scale": {"domain": ["Seyfert 2", "NLRG", "Liner", "NELG", "H II region", "H II galaxy", "Starburst"],
                    "range": ["black", "black", "black", "black", "black", "black", "black"]},
                  "legend": {"title": "Symbols", "orient": "none", "legendX": 0, "legendY": 286,
                    "values": ["Seyfert 2", "NLRG", "Liner", "NELG"]}},
                "size": {"field": "quality", "type": "ordinal", "legend": null,
                  "scale": {"domain": ["high", "medium", "low"], "range": [170, 120, 45]}}
              }
            }
          ]
        }
      ]
    }
  ]
}
